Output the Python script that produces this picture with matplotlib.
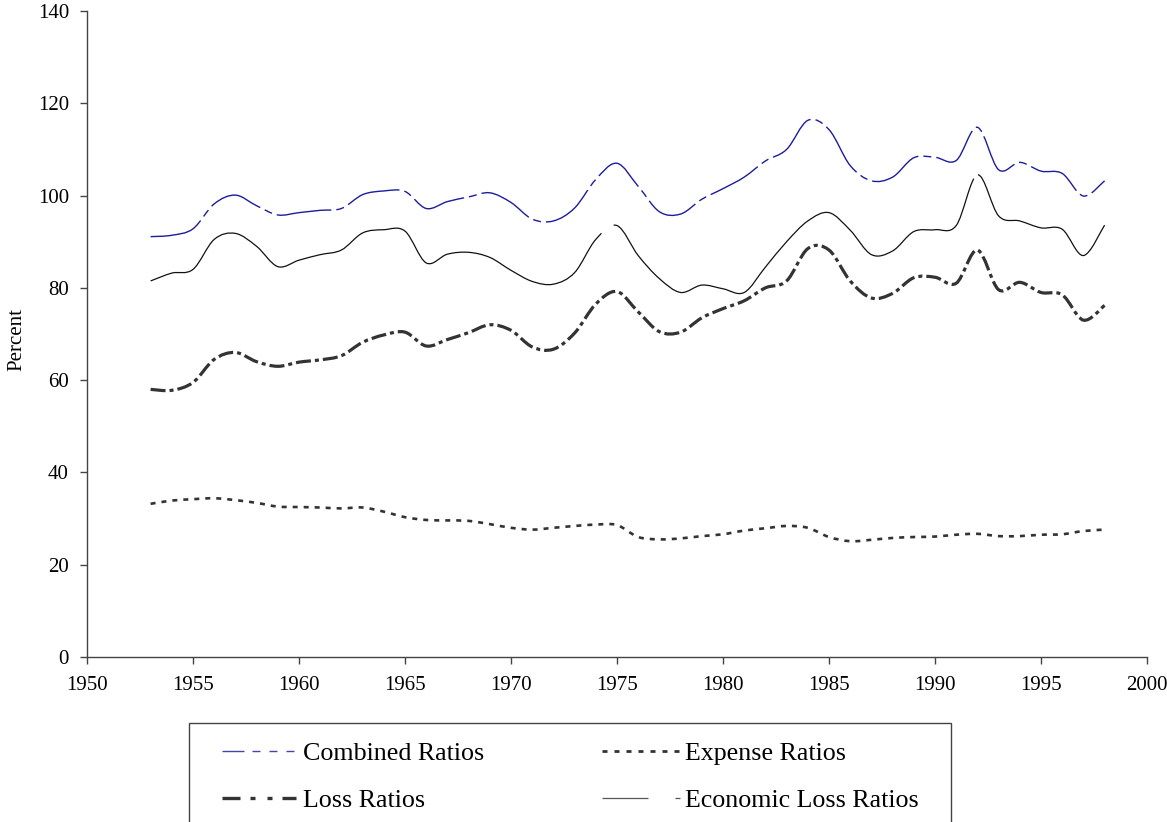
import numpy as np
import matplotlib
matplotlib.use("Agg")
import matplotlib.pyplot as plt
from matplotlib.path import Path
from matplotlib.patches import PathPatch, Rectangle
from matplotlib.lines import Line2D

plt.rcParams['font.family'] = ['Liberation Serif', 'DejaVu Serif']

years = list(range(1953, 1999))

combined_ratios = [91.1, 91.4, 92.8, 98.2, 100.1, 97.8, 95.8, 96.3, 96.8, 97.2,
                   100.2, 101.0, 100.9, 97.2, 98.7, 99.7, 100.6, 98.5, 94.9, 94.5,
                   97.3, 103.5, 107.0, 102.0, 96.5, 96.0, 99.2, 101.5, 104.0, 107.5,
                   110.0, 116.3, 114.3, 106.5, 103.2, 104.0, 108.2, 108.3, 107.6, 114.8,
                   105.6, 107.2, 105.3, 104.8, 99.9, 103.2]

expense_ratios = [33.2, 33.9, 34.2, 34.4, 34.0, 33.4, 32.6, 32.5, 32.4, 32.2,
                  32.4, 31.5, 30.3, 29.7, 29.6, 29.5, 28.8, 28.0, 27.6, 28.0,
                  28.4, 28.7, 28.6, 26.0, 25.5, 25.7, 26.2, 26.6, 27.4, 27.9,
                  28.4, 28.0, 26.0, 25.1, 25.4, 25.8, 26.0, 26.1, 26.5, 26.7,
                  26.2, 26.2, 26.5, 26.6, 27.3, 27.6]

loss_ratios = [58.0, 57.8, 59.5, 64.5, 66.0, 64.0, 63.0, 63.9, 64.4, 65.3,
               68.2, 69.8, 70.4, 67.4, 68.8, 70.3, 72.0, 70.8, 67.2, 66.7,
               70.2, 76.5, 79.2, 74.8, 70.5, 70.4, 73.5, 75.5, 77.2, 80.0,
               81.5, 88.5, 88.2, 81.5, 77.8, 78.8, 82.2, 82.3, 81.0, 88.2,
               79.6, 81.2, 79.0, 78.5, 73.0, 76.2]

economic_loss_ratios = [81.5, 83.2, 84.0, 90.5, 91.8, 89.0, 84.6, 86.0, 87.2, 88.2,
                        91.9, 92.6, 92.3, 85.4, 87.3, 87.7, 86.6, 83.8, 81.4, 80.8,
                        83.3, 90.5, 93.5, 87.0, 82.0, 79.0, 80.6, 79.8, 79.0, 84.5,
                        90.0, 94.5, 96.3, 92.5, 87.2, 88.0, 92.2, 92.6, 93.5, 104.5,
                        95.6, 94.5, 93.0, 92.7, 87.0, 93.6]

series_labels = ["Combined Ratios", "Expense Ratios", "Loss Ratios", "Economic Loss Ratios"]
x_ticks = list(range(1950, 2001, 5))
y_ticks = list(range(0, 141, 20))

W, H = 1167, 822
fig = plt.figure(figsize=(W / 100, H / 100), dpi=100)
ax = fig.add_axes([87 / W, 1 - 657 / H, 1060 / W, 646 / H])


def smooth_path(xs, ys):
    """Excel-style smoothed line: Catmull-Rom segments rendered as cubic Beziers."""
    xs = np.asarray(xs, float)
    ys = np.asarray(ys, float)
    pts = np.column_stack([xs, ys])
    n = len(pts)
    verts = [pts[0]]
    codes = [Path.MOVETO]
    for i in range(n - 1):
        p0 = pts[i - 1] if i > 0 else pts[i]
        p1 = pts[i]
        p2 = pts[i + 1]
        p3 = pts[i + 2] if i + 2 < n else pts[i + 1]
        c1 = p1 + (p2 - p0) / 6.0
        c2 = p2 - (p3 - p1) / 6.0
        verts += [c1, c2, p2]
        codes += [Path.CURVE4] * 3
    return Path(verts, codes)


def dash(px_pattern, lw_pt):
    return (0, tuple(p * 0.72 / lw_pt for p in px_pattern))


styles = [
    (combined_ratios, "#1c1c9c", 1.0, dash([55, 5, 8, 5], 1.0)),
    (expense_ratios, "#333333", 1.9, dash([5, 6], 1.9)),
    (loss_ratios, "#333333", 2.3, dash([15, 4, 4, 4], 2.3)),
    (economic_loss_ratios, "#111111", 0.9, dash([545, 15, 490, 6, 5000, 10], 0.9)),
]

for vals, col, lw, ls in styles:
    patch = PathPatch(smooth_path(years, vals), fill=False, edgecolor=col,
                      linewidth=lw, linestyle=ls, capstyle='butt')
    ax.add_patch(patch)

ax.set_xlim(1950, 2000)
ax.set_ylim(0, 140)
ax.set_xticks(x_ticks)
ax.set_yticks(y_ticks)
ax.tick_params(axis='both', direction='out', length=5, width=1, color='#444444',
               labelsize=15, labelcolor='black')
ax.tick_params(axis='x', pad=9)
ax.tick_params(axis='y', pad=8)
for s in ['top', 'right']:
    ax.spines[s].set_visible(False)
for s in ['left', 'bottom']:
    ax.spines[s].set_color('#444444')
    ax.spines[s].set_linewidth(1)

ax.set_ylabel("Percent", fontsize=15)
ax.yaxis.set_label_coords((26 - 87) / 1060, (657 - 340) / 646)


def fx(x):
    return x / W


def fy(y):
    return 1 - y / H


# legend box (cut by the figure's lower edge as in the reference)
fig.patches.append(Rectangle((fx(189), fy(900)), fx(951) - fx(189), fy(723) - fy(900),
                             transform=fig.transFigure, fill=False,
                             edgecolor='#444444', linewidth=1, clip_on=False))

leg_items = [
    (series_labels[0], 222, 296, 751, 303, 760, "#4444aa", 1.0, [22, 8, 8, 9, 8, 9, 8, 60]),
    (series_labels[1], 602, 680, 751, 685, 760, "#333333", 2.0, [5, 7]),
    (series_labels[2], 222, 296, 798, 303, 807, "#333333", 2.4, [18, 10, 5, 12, 5, 10, 20, 40]),
    (series_labels[3], 602, 680, 798, 685, 807, "#555555", 0.9, [46, 27, 5, 60]),
]
for label, x0, x1, yl, xt, yt, col, lw, pat in leg_items:
    ln = Line2D([fx(x0), fx(x1)], [fy(yl), fy(yl)], transform=fig.transFigure,
                color=col, linewidth=lw, linestyle=dash(pat, lw), solid_capstyle='butt',
                dash_capstyle='butt')
    fig.lines.append(ln)
    fig.text(fx(xt), fy(yt), label, fontsize=18.7, va='baseline', ha='left')

fig.savefig("out.png", dpi=100)
